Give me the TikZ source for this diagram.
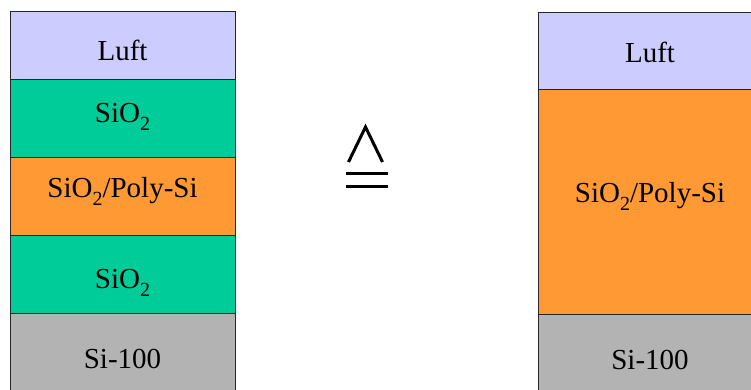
\documentclass[tikz,border=0pt]{standalone}
\usepackage{fontspec}
\setmainfont{Liberation Serif}
\definecolor{luft}{HTML}{CCCCFF}
\definecolor{oxid}{HTML}{00CC99}
\definecolor{poly}{HTML}{FF9933}
\definecolor{sub}{HTML}{B3B3B3}
\definecolor{edge}{HTML}{262626}
\newcommand{\sio}{SiO\raisebox{-8pt}{\fontsize{20}{20}\selectfont 2}}
\begin{document}
\begin{tikzpicture}[x=1pt,y=-1pt,
  layer/.style={draw=edge,line width=1.3pt,anchor=north west,inner sep=0pt},
  lbl/.style={anchor=base,inner sep=0pt,font=\fontsize{29}{32}\selectfont},
  sym/.style={line width=3pt,line cap=butt}]
\useasboundingbox (0,0) rectangle (751,389);
\begin{scope}
\clip (0,0) rectangle (751,389);
% left stack
\node[layer,fill=luft,minimum width=225pt,minimum height=68pt] (l1) at (10,11) {};
\node[layer,fill=oxid,minimum width=225pt,minimum height=78pt] (l2) at (10,79) {};
\node[layer,fill=poly,minimum width=225pt,minimum height=78pt] (l3) at (10,157) {};
\node[layer,fill=oxid,minimum width=225pt,minimum height=78pt] (l4) at (10,235) {};
\node[layer,fill=sub,minimum width=225pt,minimum height=90pt] (l5) at (10,313) {};
% right stack
\node[layer,fill=luft,minimum width=224pt,minimum height=77pt] (r1) at (538,12) {};
\node[layer,fill=poly,minimum width=224pt,minimum height=225pt] (r2) at (538,89) {};
\node[layer,fill=sub,minimum width=224pt,minimum height=90pt] (r3) at (538,314) {};
\end{scope}
% labels
\node[lbl] (t1) at (122.5,60) {Luft};
\node[lbl] (t2) at (122.5,122) {\sio};
\node[lbl] (t3) at (122.5,197) {\sio/Poly-Si};
\node[lbl] (t4) at (122.5,288) {\sio};
\node[lbl] (t5) at (122.5,368) {Si-100};
\node[lbl] (u1) at (650,62) {Luft};
\node[lbl] (u2) at (650,202) {\sio/Poly-Si};
\node[lbl] (u3) at (650,369) {Si-100};
% correspondence symbol
\coordinate (wl) at (348.5,162);
\coordinate (wt) at (365.5,127);
\coordinate (wr) at (382.5,162);
\coordinate (e1l) at (346,173);
\coordinate (e1r) at (388,173);
\coordinate (e2l) at (346,186);
\coordinate (e2r) at (388,186);
\draw[sym,line join=miter] (wl) -- (wt) -- (wr);
\draw[sym] (e1l) -- (e1r);
\draw[sym] (e2l) -- (e2r);
\end{tikzpicture}
\end{document}
